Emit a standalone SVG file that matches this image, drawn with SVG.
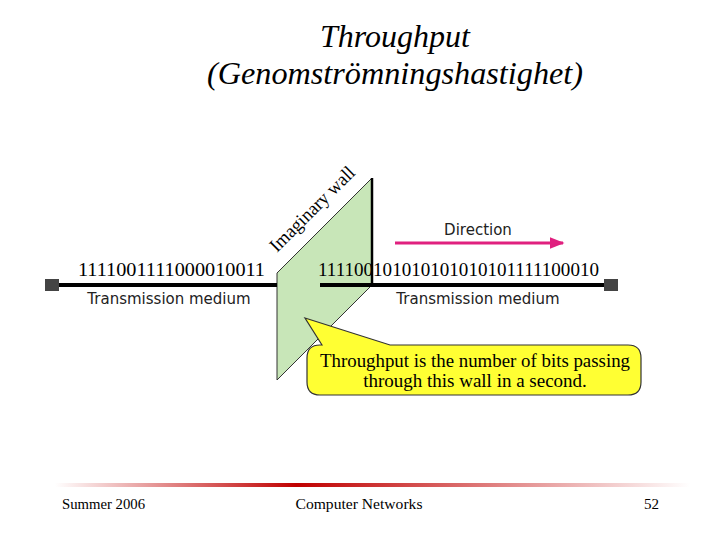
<svg xmlns="http://www.w3.org/2000/svg" width="720" height="540" viewBox="0 0 720 540">
<defs>
<linearGradient id="rule" x1="0" x2="1" y1="0" y2="0">
<stop offset="0" stop-color="#ffffff"/>
<stop offset="0.38" stop-color="#c00000"/>
<stop offset="1" stop-color="#ffffff"/>
</linearGradient>
<marker id="arr" viewBox="0 0 10 10" refX="9" refY="5" markerWidth="5" markerHeight="5" orient="auto" markerUnits="strokeWidth">
<path d="M0,1 L10,5 L0,9 z" fill="#e0207f"/>
</marker>
<style>
.title{font-family:"Liberation Serif",serif;font-style:italic;font-size:31px;fill:#000;text-anchor:middle}
.bits{font-family:"Liberation Serif",serif;font-size:19px;fill:#000}
.sans{font-family:"DejaVu Sans","Liberation Sans",sans-serif;font-size:15px;fill:#222;text-anchor:middle}
.call{font-family:"Liberation Serif",serif;font-size:19px;fill:#000;text-anchor:middle}
.foot{font-family:"Liberation Serif",serif;font-size:15px;fill:#000}
.line{stroke:#000;stroke-width:4}
.term{fill:#444}
</style>
</defs>
<rect width="720" height="540" fill="#fff"/>
<g id="title">
<text class="title" x="395" y="47" textLength="150" lengthAdjust="spacingAndGlyphs">Throughput</text>
<text class="title" x="395" y="84" textLength="376" lengthAdjust="spacingAndGlyphs">(Genomströmningshastighet)</text>
</g>
<g id="wall">
<polygon points="277,273 372,178 372,285 277,380" fill="#c8e6b8" stroke="#333" stroke-width="1"/>
<line x1="372" y1="178" x2="372" y2="286" stroke="#000" stroke-width="2.5"/>
<text class="bits" transform="translate(277,253) rotate(-45)" font-size="19" textLength="112" lengthAdjust="spacingAndGlyphs">Imaginary wall</text>
</g>
<g id="connectors">
<line class="line" x1="52" y1="285" x2="277" y2="285"/>
<line class="line" x1="320" y1="285" x2="612" y2="285"/>
<line x1="395" y1="243" x2="563" y2="243" stroke="#e0207f" stroke-width="3" marker-end="url(#arr)"/>
</g>
<g id="left-medium">
<rect class="term" x="45" y="279" width="14" height="12"/>
<text class="bits" x="78" y="276" textLength="187" lengthAdjust="spacingAndGlyphs">1111001111000010011</text>
<text class="sans" x="169" y="304">Transmission medium</text>
</g>
<g id="right-medium">
<rect class="term" x="604" y="279" width="14" height="12"/>
<text class="bits" x="318" y="276" textLength="281" lengthAdjust="spacingAndGlyphs">111100101010101010101111100010</text>
<text class="sans" x="478" y="304">Transmission medium</text>
<text class="sans" x="478" y="235">Direction</text>
</g>
<g id="callout">
<path d="M322,345 L305,318 L390,345 L628,345 Q641,345 641,358 L641,382 Q641,395 628,395 L320,395 Q307,395 307,382 L307,358 Q307,345 320,345 Z" fill="#ffff33" stroke="#333" stroke-width="1.2"/>
<text class="call" x="475" y="367" textLength="310" lengthAdjust="spacingAndGlyphs">Throughput is the number of bits passing</text>
<text class="call" x="475" y="387">through this wall in a second.</text>
</g>
<g id="footer">
<rect x="55" y="483" width="635" height="4" fill="url(#rule)"/>
<text class="foot" x="62" y="509" textLength="83" lengthAdjust="spacingAndGlyphs">Summer 2006</text>
<text class="foot" x="359" y="509" text-anchor="middle" textLength="127" lengthAdjust="spacingAndGlyphs">Computer Networks</text>
<text class="foot" x="659" y="509" text-anchor="end">52</text>
</g>
</svg>
